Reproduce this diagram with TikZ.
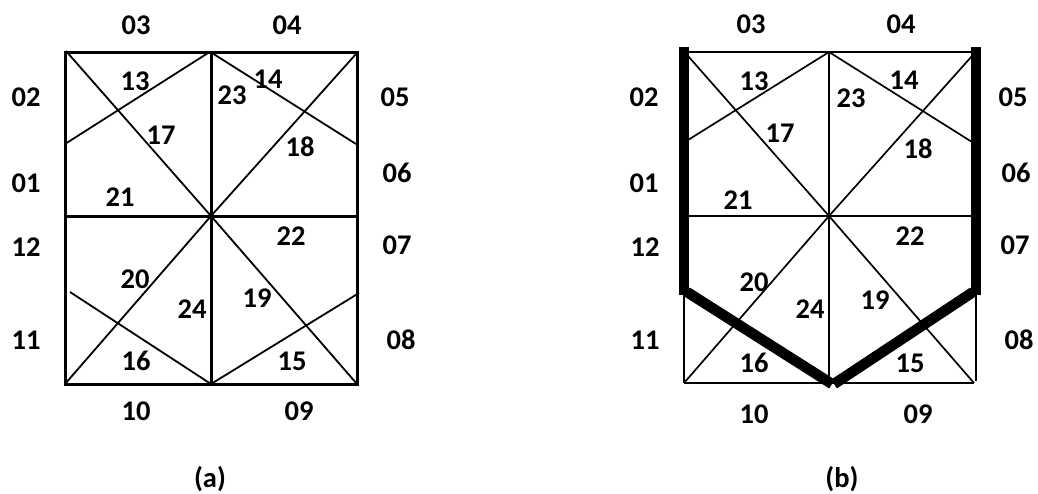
\documentclass[tikz,border=0pt]{standalone}
\usepackage{fontspec}
\setmainfont{Carlito}
\tikzset{
  lab/.style={font=\fontsize{28.5}{28.5}\selectfont\bfseries,inner sep=0pt,text=black},
  frame/.style={line width=3pt},
  diag/.style={line width=1.8pt},
  thinline/.style={line width=1.7pt},
  heavy/.style={line width=10.5pt}
}
\begin{document}
\begin{tikzpicture}[x=1pt,y=-1pt]
\useasboundingbox (0,0) rectangle (1038,493);

% --- Punti pannello a ---
\coordinate (aTL) at (65,52);
\coordinate (aTM) at (211,52);
\coordinate (aTR) at (357,52);
\coordinate (aML) at (65,216);
\coordinate (aC)  at (211,216);
\coordinate (aMR) at (357,216);
\coordinate (aBL) at (65,384);
\coordinate (aBM) at (211,384);
\coordinate (aBR) at (357,384);
\coordinate (aD1) at (66,51);
\coordinate (aD2) at (65,144);
\coordinate (aD3) at (208,53);
\coordinate (aD4) at (212,53);
\coordinate (aD5) at (356,144);
\coordinate (aD6) at (356,54);
\coordinate (aD7) at (70,292);
\coordinate (aD8) at (359,293);

% --- Griglia pannello a ---
\draw[frame] (aTL) rectangle (aBR);
\draw[frame] (aTM) -- (aBM);
\draw[frame] (aML) -- (aMR);
\draw[diag] (aD1) -- (aC);
\draw[diag] (aD2) -- (aD3);
\draw[diag] (aD4) -- (aD5);
\draw[diag] (aD6) -- (aC);
\draw[diag] (aC) -- (aBL);
\draw[diag] (aC) -- (aBR);
\draw[diag] (aD7) -- (aBM);
\draw[diag] (aBM) -- (aD8);

% --- Etichette pannello a ---
\node[lab] (a03) at (136,25) {03};
\node[lab] (a04) at (287,25) {04};
\node[lab] (a02) at (26,97) {02};
\node[lab] (a05) at (395,97) {05};
\node[lab] (a01) at (26,183) {01};
\node[lab] (a06) at (397,173) {06};
\node[lab] (a12) at (26,247) {12};
\node[lab] (a07) at (397,245) {07};
\node[lab] (a11) at (26,340) {11};
\node[lab] (a08) at (401,340) {08};
\node[lab] (a10) at (136,411) {10};
\node[lab] (a09) at (299,411) {09};
\node[lab] (a13) at (135,81) {13};
\node[lab] (a14) at (268,79) {14};
\node[lab] (a23) at (232,95) {23};
\node[lab] (a17) at (161,135) {17};
\node[lab] (a18) at (300,147) {18};
\node[lab] (a21) at (120,197) {21};
\node[lab] (a22) at (291,236) {22};
\node[lab] (a20) at (135,279) {20};
\node[lab] (a24) at (192,309) {24};
\node[lab] (a19) at (257,298) {19};
\node[lab] (a16) at (136,361) {16};
\node[lab] (a15) at (292,361) {15};
\node[lab] (acap) at (210,479) {(a)};

% --- Punti pannello b ---
\coordinate (bTL) at (684,52);
\coordinate (bTM) at (829,52);
\coordinate (bTR) at (976,52);
\coordinate (bML) at (684,216);
\coordinate (bC)  at (829,216);
\coordinate (bMR) at (976,216);
\coordinate (bBL) at (684,383);
\coordinate (bBM) at (829,384);
\coordinate (bBR) at (974,383);
\coordinate (bLT) at (684,47);
\coordinate (bLB) at (684,295);
\coordinate (bRT) at (976,47);
\coordinate (bRB) at (976,295);
\coordinate (bRE) at (976,381);
\coordinate (bS1) at (687,292);
\coordinate (bS2) at (832,384);
\coordinate (bS3) at (973,292);
\coordinate (bS4) at (834,384);
\coordinate (bD1) at (688,56);
\coordinate (bD2) at (688,140);
\coordinate (bD3) at (972,142);
\coordinate (bD4) at (972,56);

% --- Griglia pannello b ---
\draw[thinline] (bTL) -- (bTR);
\draw[thinline] (bML) -- (bMR);
\draw[thinline] (bBL) -- (bBR);
\draw[thinline] (bTM) -- (bBM);
\draw[thinline] (bLB) -- (bBL);
\draw[thinline] (bRB) -- (bRE);
\draw[thinline] (bD1) -- (bC);
\draw[thinline] (bD2) -- (bTM);
\draw[thinline] (bTM) -- (bD3);
\draw[thinline] (bD4) -- (bC);
\draw[thinline] (bC) -- (bBL);
\draw[thinline] (bC) -- (bBR);

% --- Tratti spessi ---
\draw[heavy] (bLT) -- (bLB);
\draw[heavy] (bRT) -- (bRB);
\draw[heavy] (bS1) -- (bS2);
\draw[heavy] (bS3) -- (bS4);

% --- Etichette pannello b ---
\node[lab] (b03) at (751,24) {03};
\node[lab] (b04) at (901,24) {04};
\node[lab] (b02) at (644,97) {02};
\node[lab] (b05) at (1013,97) {05};
\node[lab] (b01) at (644,183) {01};
\node[lab] (b06) at (1016,173) {06};
\node[lab] (b12) at (645,247) {12};
\node[lab] (b07) at (1015,245) {07};
\node[lab] (b11) at (645,340) {11};
\node[lab] (b08) at (1019,340) {08};
\node[lab] (b10) at (754,414) {10};
\node[lab] (b09) at (918,414) {09};
\node[lab] (b13) at (754,81) {13};
\node[lab] (b14) at (904,80) {14};
\node[lab] (b23) at (851,98) {23};
\node[lab] (b17) at (780,133) {17};
\node[lab] (b18) at (918,149) {18};
\node[lab] (b21) at (738,200) {21};
\node[lab] (b22) at (910,236) {22};
\node[lab] (b20) at (754,282) {20};
\node[lab] (b24) at (810,309) {24};
\node[lab] (b19) at (875,300) {19};
\node[lab] (b16) at (754,363) {16};
\node[lab] (b15) at (910,363) {15};
\node[lab] (bcap) at (842,479) {(b)};

\end{tikzpicture}
\end{document}
